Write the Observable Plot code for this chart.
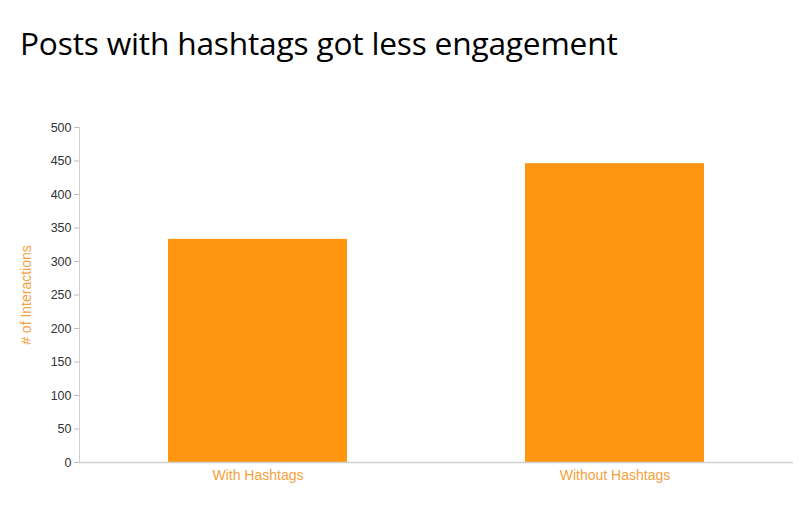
<!DOCTYPE html>
<html>
<head>
<meta charset="utf-8">
<script src="https://cdn.jsdelivr.net/npm/d3@7"></script>
<script src="https://cdn.jsdelivr.net/npm/@observablehq/plot@0.6"></script>
<style>
  html, body { margin: 0; padding: 0; background: #fff; }
  #title { font-family: "Open Sans", sans-serif; font-size: 31.7px; color: #000; position: absolute; left: 20px; top: 21px; white-space: nowrap; letter-spacing: -0.2px; }
  #chart { position: absolute; left: 0; top: 100px; }
</style>
</head>
<body>
<div id="title">Posts with hashtags got less engagement</div>
<div id="chart"></div>
<script>
const categories = ["With Hashtags", "Without Hashtags"];
const interactions = [333, 446];
const yTicks = [0, 50, 100, 150, 200, 250, 300, 350, 400, 450, 500];
const yLabel = "# of Interactions";

const data = categories.map((c, i) => ({category: c, value: interactions[i]}));
const barColor = "#FF9511";
const labelColor = "#F5A03C";

const chart = Plot.plot({
  width: 800,
  height: 406,
  marginTop: 27,
  marginBottom: 44,
  marginLeft: 79,
  marginRight: 7,
  style: {fontFamily: "'Liberation Sans', Arial, sans-serif", fontSize: "12px", background: "#fff"},
  x: {domain: categories, paddingInner: 0.5, paddingOuter: 0.25, align: 0.5},
  y: {domain: [0, 500]},
  marks: [
    Plot.barY(data, {x: "category", y: "value", fill: barColor}),
    Plot.frame({anchor: "left", stroke: "#d0d0d0"}),
    Plot.ruleY([0], {stroke: "#cfcfcf", strokeWidth: 1.5}),
    Plot.axisY({ticks: yTicks, tickSize: 5, tickPadding: 3, stroke: "#bdbdbd", fill: "#333", label: null, fontSize: 12.5}),
    Plot.axisY({ticks: [], label: yLabel, labelArrow: false, labelAnchor: "center", labelOffset: 58, fill: labelColor, fontSize: 14}),
    Plot.axisX({tickSize: 0, tickPadding: 8, fill: labelColor, label: null, fontSize: 14})
  ]
});
document.getElementById("chart").appendChild(chart);
</script>
</body>
</html>
